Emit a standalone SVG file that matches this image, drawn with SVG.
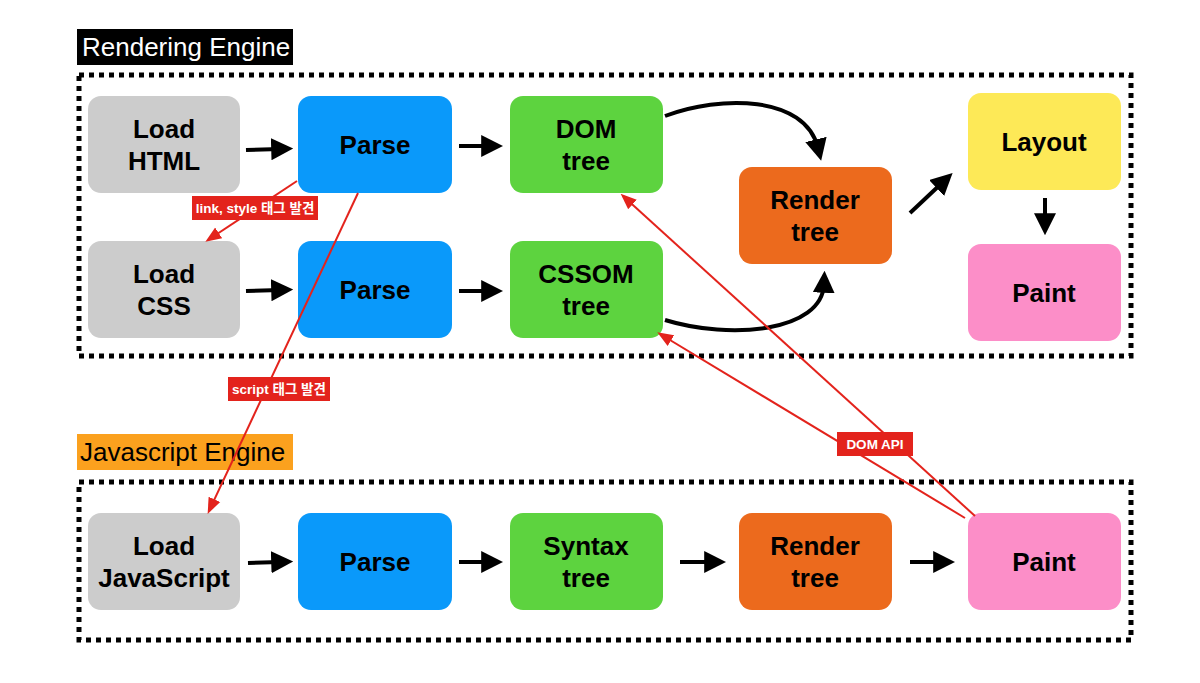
<svg xmlns="http://www.w3.org/2000/svg" width="1200" height="683" viewBox="0 0 1200 683">
<defs>
<style>
.n{font-family:"Liberation Sans",Arial,sans-serif;font-weight:bold;font-size:26px;text-anchor:middle;fill:#000}
.h{font-family:"Liberation Sans",Arial,sans-serif;font-size:26px}
.lb{font-family:"Liberation Sans","Noto Sans CJK KR",sans-serif;font-weight:bold;font-size:13.5px;fill:#fff;text-anchor:middle}
.box{stroke:none}
.dash{fill:none;stroke:#000;stroke-width:5;stroke-dasharray:5 5}
.ar{stroke:#000;stroke-width:4;fill:none;marker-end:url(#ah)}
.ra{stroke:#e3231c;stroke-width:2;fill:none;marker-end:url(#rh)}
</style>
<marker id="ah" viewBox="0 0 10 10" refX="4" refY="5" markerWidth="5.5" markerHeight="5.5" orient="auto" markerUnits="strokeWidth"><path d="M0,0L10,5L0,10z" fill="#000"/></marker>
<marker id="rh" viewBox="0 0 10 10" refX="8" refY="5" markerWidth="8" markerHeight="8" orient="auto" markerUnits="strokeWidth"><path d="M0,1L10,5L0,9z" fill="#e3231c"/></marker>
</defs>
<rect width="1200" height="683" fill="#fff"/>
<g id="title-rendering"><rect x="77" y="29" width="216" height="36" fill="#000"/><text class="h" x="82" y="56" fill="#fff">Rendering Engine</text></g>
<g id="title-js"><rect x="77" y="434" width="216" height="36" fill="#fba11e"/><text class="h" x="80" y="461" fill="#000">Javascript Engine</text></g>
<rect class="dash" x="79" y="75" width="1052" height="281"/>
<rect class="dash" x="79" y="482" width="1052" height="158"/>
<g id="load-html"><rect class="box" x="88" y="96" width="152" height="97" rx="13" fill="#cccccc"/><text class="n" x="164" y="138">Load</text><text class="n" x="164" y="170">HTML</text></g>
<g id="parse-html"><rect class="box" x="298" y="96" width="154" height="97" rx="13" fill="#0a99fa"/><text class="n" x="375" y="154">Parse</text></g>
<g id="dom-tree"><rect class="box" x="510" y="96" width="153" height="97" rx="13" fill="#5dd33f"/><text class="n" x="586" y="138">DOM</text><text class="n" x="586" y="170">tree</text></g>
<g id="render-tree"><rect class="box" x="739" y="167" width="153" height="97" rx="13" fill="#ec6a1d"/><text class="n" x="815" y="209">Render</text><text class="n" x="815" y="241">tree</text></g>
<g id="layout"><rect class="box" x="968" y="93" width="153" height="97" rx="13" fill="#fde957"/><text class="n" x="1044" y="151">Layout</text></g>
<g id="paint"><rect class="box" x="968" y="244" width="153" height="97" rx="13" fill="#fc8ec8"/><text class="n" x="1044" y="302">Paint</text></g>
<g id="load-css"><rect class="box" x="88" y="241" width="152" height="97" rx="13" fill="#cccccc"/><text class="n" x="164" y="283">Load</text><text class="n" x="164" y="315">CSS</text></g>
<g id="parse-css"><rect class="box" x="298" y="241" width="154" height="97" rx="13" fill="#0a99fa"/><text class="n" x="375" y="299">Parse</text></g>
<g id="cssom-tree"><rect class="box" x="510" y="241" width="153" height="97" rx="13" fill="#5dd33f"/><text class="n" x="586" y="283">CSSOM</text><text class="n" x="586" y="315">tree</text></g>
<g id="load-js"><rect class="box" x="88" y="513" width="152" height="97" rx="13" fill="#cccccc"/><text class="n" x="164" y="555">Load</text><text class="n" x="164" y="587">JavaScript</text></g>
<g id="parse-js"><rect class="box" x="298" y="513" width="154" height="97" rx="13" fill="#0a99fa"/><text class="n" x="375" y="571">Parse</text></g>
<g id="syntax-tree"><rect class="box" x="510" y="513" width="153" height="97" rx="13" fill="#5dd33f"/><text class="n" x="586" y="555">Syntax</text><text class="n" x="586" y="587">tree</text></g>
<g id="js-render-tree"><rect class="box" x="739" y="513" width="153" height="97" rx="13" fill="#ec6a1d"/><text class="n" x="815" y="555">Render</text><text class="n" x="815" y="587">tree</text></g>
<g id="js-paint"><rect class="box" x="968" y="513" width="153" height="97" rx="13" fill="#fc8ec8"/><text class="n" x="1044" y="571">Paint</text></g>
<g id="connectors">
<line class="ar" x1="246" y1="150" x2="280" y2="149"/>
<line class="ar" x1="459" y1="146" x2="490" y2="146"/>
<line class="ar" x1="246" y1="291" x2="280" y2="290"/>
<line class="ar" x1="459" y1="291" x2="490" y2="291"/>
<path class="ar" d="M665,116 C720,95 805,95 818,148"/>
<path class="ar" d="M665,320 C730,340 822,332 824,284"/>
<line class="ar" x1="910" y1="213" x2="943" y2="182"/>
<line class="ar" x1="1045" y1="198" x2="1045" y2="222"/>
<line class="ar" x1="248" y1="563" x2="280" y2="562"/>
<line class="ar" x1="459" y1="562" x2="490" y2="562"/>
<line class="ar" x1="680" y1="562" x2="713" y2="562"/>
<line class="ar" x1="910" y1="562" x2="942" y2="562"/>
<line class="ra" x1="297" y1="181" x2="208" y2="240"/>
<line class="ra" x1="358" y1="193" x2="209" y2="511"/>
<line class="ra" x1="975" y1="516" x2="623" y2="196"/>
<line class="ra" x1="965" y1="518" x2="660" y2="334"/>
</g>
<g id="label-link"><rect x="192" y="196" width="126" height="24" fill="#e3231c"/><text class="lb" x="255" y="213">link, style 태그 발견</text></g>
<g id="label-script"><rect x="228" y="377" width="102" height="24" fill="#e3231c"/><text class="lb" x="279" y="394">script 태그 발견</text></g>
<g id="label-domapi"><rect x="837" y="432" width="76" height="24" fill="#e3231c"/><text class="lb" x="875" y="449">DOM API</text></g>
</svg>
